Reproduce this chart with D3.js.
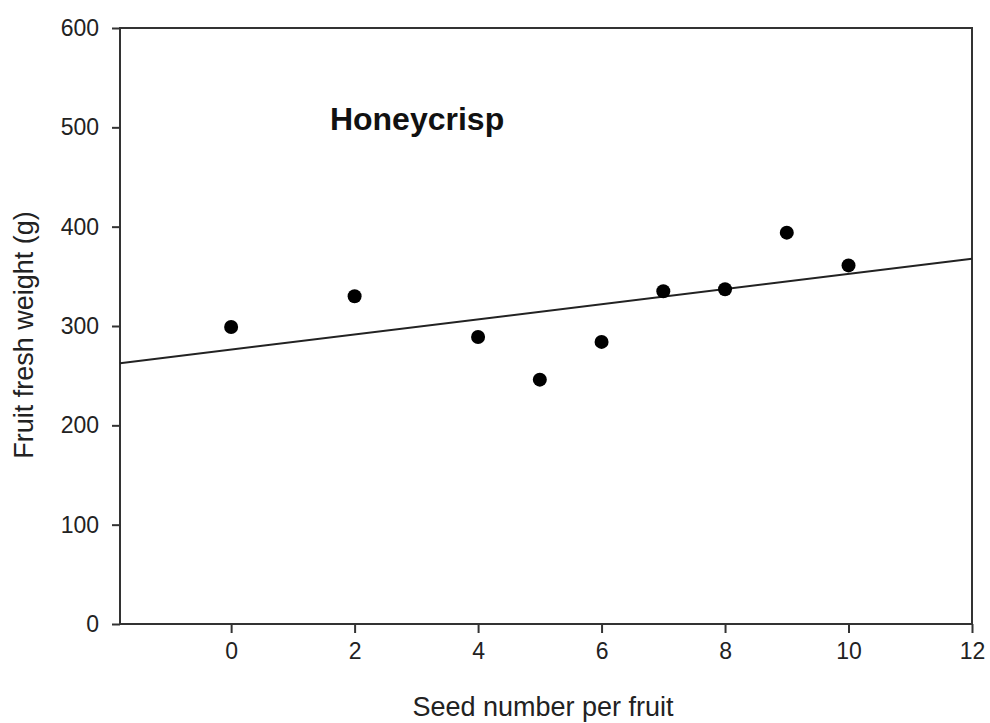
<!DOCTYPE html>
<html lang="en">
<head>
<meta charset="UTF-8" />
<title>Honeycrisp seed number vs fruit weight</title>
<script src="https://d3js.org/d3.v7.min.js"></script>
<style>
    body {
        margin: 0;
        background: #fff;
        font-family: 'Liberation Sans', Arial, sans-serif;
    }
    .axis .domain {
        display: none;
    }
    .axis line {
        stroke: #333;
        stroke-width: 2;
    }
    .axis text {
        font-family: 'Liberation Sans', Arial, sans-serif;
        font-size: 23px;
        fill: #222;
    }
</style>
</head>
<body>
<svg width="990" height="723"></svg>
<script>

// data
var seeds = [0, 2, 4, 5, 6, 7, 8, 9, 10];
var weights = [299, 330, 289, 246, 284, 335, 337, 394, 361];
var xTicks = [0, 2, 4, 6, 8, 10, 12];
var yTicks = [0, 100, 200, 300, 400, 500, 600];

var svg = d3.select("svg"),
    margin = {top: 28, right: 18, bottom: 99, left: 120},
    width = +svg.attr("width") - margin.left - margin.right,
    height = +svg.attr("height") - margin.top - margin.bottom,
    g = svg.append("g").attr("transform", "translate(" + margin.left + "," + margin.top + ")");

var x = d3.scaleLinear().domain([-1.8, 12]).range([0, width]);
var y = d3.scaleLinear().domain([0, 600]).range([height, 0]);

// axes with outward ticks
g.append("g")
    .attr("class", "axis")
    .attr("transform", "translate(0," + height + ")")
    .call(d3.axisBottom(x).tickValues(xTicks).tickSize(9).tickPadding(10));

g.append("g")
    .attr("class", "axis")
    .call(d3.axisLeft(y).tickValues(yTicks).tickSize(8).tickPadding(13));

// plot frame
g.append("rect")
    .attr("width", width)
    .attr("height", height)
    .attr("fill", "none")
    .attr("stroke", "#333")
    .attr("stroke-width", 2);

// least squares line through the points
var mx = d3.mean(seeds), my = d3.mean(weights);
var sxy = d3.sum(seeds, function(d, i) { return (d - mx) * (weights[i] - my); });
var sxx = d3.sum(seeds, function(d) { return (d - mx) * (d - mx); });
var slope = sxy / sxx, intercept = my - slope * mx;

g.append("line")
    .attr("x1", x(-1.8))
    .attr("y1", y(intercept + slope * -1.8))
    .attr("x2", x(12))
    .attr("y2", y(intercept + slope * 12))
    .attr("stroke", "#222")
    .attr("stroke-width", 2);

// points
g.selectAll("circle")
    .data(seeds)
    .enter().append("circle")
        .attr("cx", function(d) { return x(d); })
        .attr("cy", function(d, i) { return y(weights[i]); })
        .attr("r", 7)
        .attr("fill", "#000");

// cultivar label
g.append("text")
    .attr("x", x(1.6))
    .attr("y", y(497))
    .attr("font-size", "32px")
    .attr("font-weight", "bold")
    .attr("fill", "#111")
    .text("Honeycrisp");

// axis titles
svg.append("text")
    .attr("x", margin.left + width / 2 - 3)
    .attr("y", 716)
    .attr("text-anchor", "middle")
    .attr("font-size", "27px")
    .attr("fill", "#222")
    .text("Seed number per fruit");

svg.append("text")
    .attr("transform", "translate(33,335) rotate(-90)")
    .attr("text-anchor", "middle")
    .attr("font-size", "27px")
    .attr("fill", "#222")
    .text("Fruit fresh weight (g)");

</script>
</body>
</html>
